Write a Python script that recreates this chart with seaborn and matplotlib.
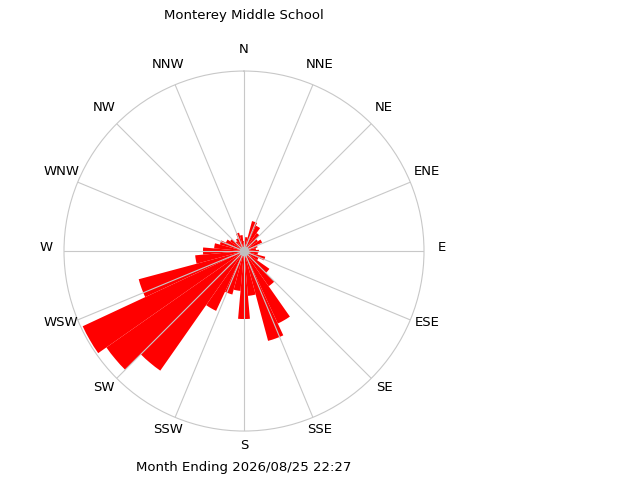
import numpy as np
import pandas as pd
import matplotlib
matplotlib.use("Agg")
import matplotlib.pyplot as plt
import matplotlib.transforms as mtrans
import seaborn as sns

# wind direction bins (degrees, 10 deg wide) and relative frequency
dir_deg = [0, 10, 20, 30, 40, 50, 60, 70, 80, 90, 100, 110,
           120, 130, 140, 150, 160, 170, 180, 190, 200, 210, 220, 230,
           240, 250, 260, 270, 280, 290, 300, 310, 320, 330, 340, 350]
freq = [10, 14, 31, 28, 22, 17, 20, 14, 12, 15, 14, 22,
        16, 31, 43, 80, 93, 45, 68, 40, 45, 66, 146, 168,
        178, 109, 49, 41, 30, 25, 20, 17, 12, 14, 19, 16]
rmax = 180

compass = ['N', 'NNE', 'NE', 'ENE', 'E', 'ESE', 'SE', 'SSE',
           'S', 'SSW', 'SW', 'WSW', 'W', 'WNW', 'NW', 'NNW']
compass_deg = np.arange(0, 360, 22.5)

title = 'Monterey Middle School'
footer = 'Month Ending 2026/08/25 22:27'

sns.set_style('white')
plt.rcParams['font.family'] = ['DejaVu Sans']
plt.rcParams['text.color'] = 'black'

df = pd.DataFrame({'theta': np.deg2rad(dir_deg), 'freq': freq})

fig = plt.figure(figsize=(6.4, 4.8), dpi=100)
ax = fig.add_axes([0.1, 0.102, 0.5625, 0.75], projection='polar')
ax.set_theta_zero_location('N')
ax.set_theta_direction(-1)

sns.barplot(data=df, x='theta', y='freq', native_scale=True, width=1.0,
            color='#ff0000', saturation=1, errorbar=None, linewidth=0,
            ax=ax)

ax.set_ylim(0, rmax)
ax.set_yticks([])
ax.set_xticks(np.deg2rad(compass_deg))
ax.set_xticklabels([])
ax.set_xlabel('')
ax.set_ylabel('')
ax.set_axisbelow(False)
ax.grid(True, color='#c8c8c8', linewidth=0.8)
ax.spines['polar'].set_color('#c8c8c8')
ax.spines['polar'].set_linewidth(0.8)

# compass labels outside the ring, nudged up a few pixels
lab_tr = mtrans.offset_copy(ax.transData, fig=fig, x=0, y=4, units='dots')
for lab, d in zip(compass, compass_deg):
    ax.text(np.deg2rad(d), rmax * 1.1, lab, ha='center', va='center',
            fontsize=9.5, color='black', clip_on=False, transform=lab_tr)

# grey hub in the middle
ax.plot([0], [0], 'o', color='#c0c0c0', ms=6, zorder=5, clip_on=False)

fig.text(244 / 640, 1 - 15 / 480, title, ha='center', va='center',
         fontsize=9.5, color='black')
fig.text(244 / 640, 1 - 467 / 480, footer, ha='center', va='center',
         fontsize=9.5, color='black')

fig.savefig('out.png', dpi=100)
